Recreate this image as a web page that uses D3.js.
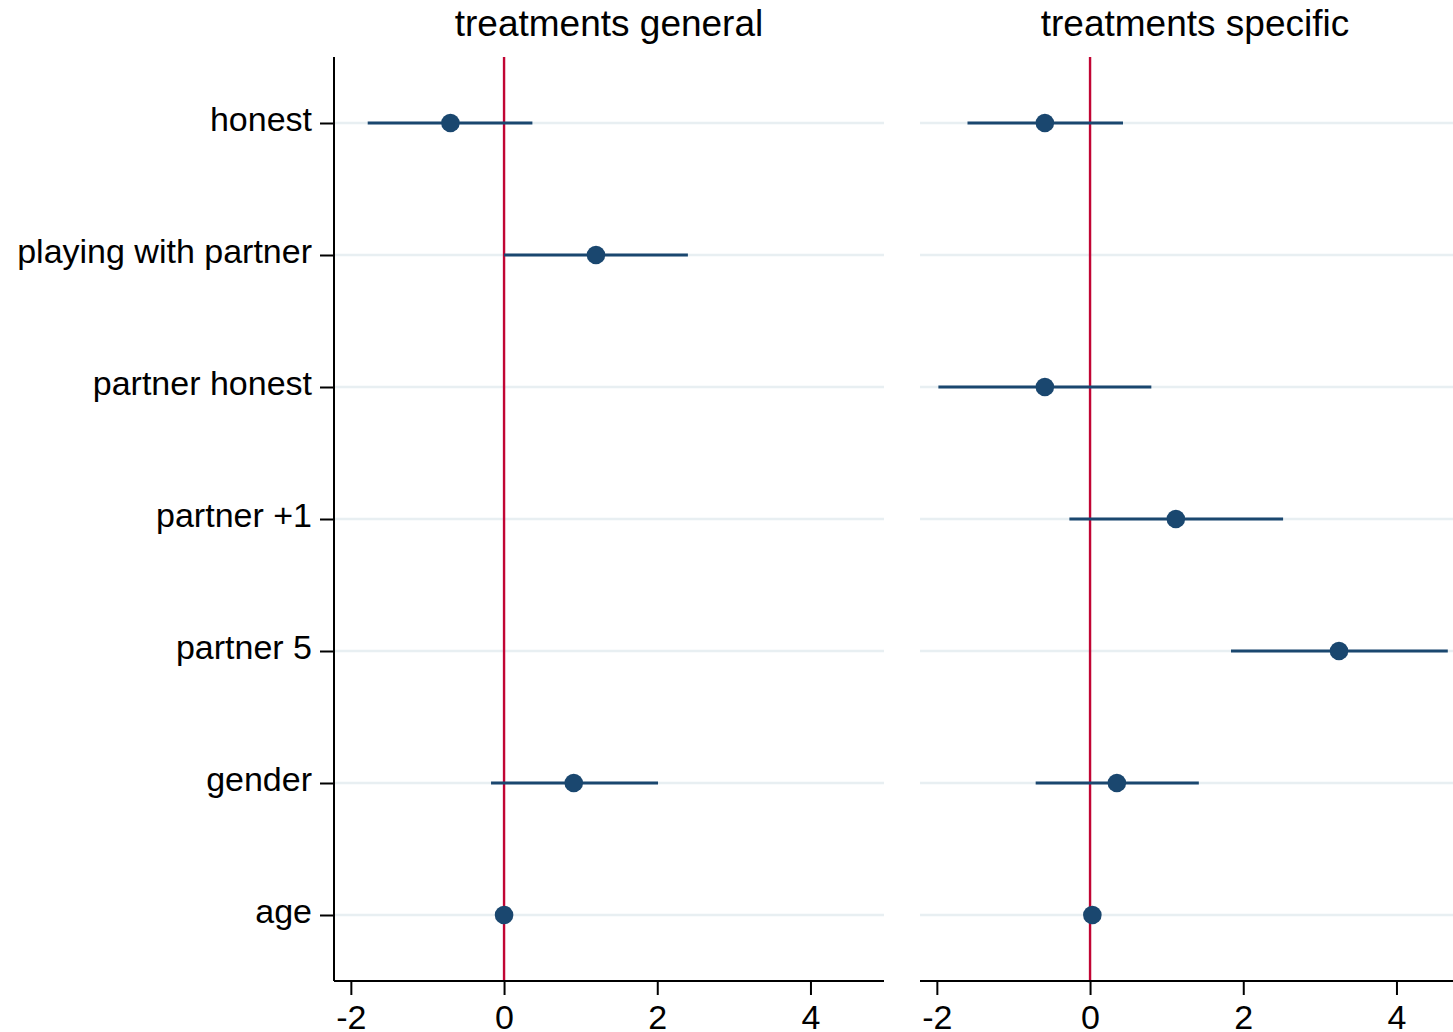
<!DOCTYPE html>
<html>
<head>
<meta charset="utf-8">
<script src="https://cdn.jsdelivr.net/npm/d3@7"></script>
<style>
  html, body { margin: 0; padding: 0; background: #fff; }
  svg { display: block; font-family: "Liberation Sans", Arial, sans-serif; }
</style>
</head>
<body>
<svg id="chart" width="1453" height="1032"></svg>
<script>
const categories = ["honest", "playing with partner", "partner honest", "partner +1", "partner 5", "gender", "age"];
const panels = ["treatments general", "treatments specific"];
const xTicks = [-2, 0, 2, 4];

// point estimates and confidence intervals (null = not estimated)
const generalEst = [-0.70, 1.20, null, null, null, 0.91, 0.00];
const generalLo  = [-1.78, 0.00, null, null, null, -0.17, -0.02];
const generalHi  = [ 0.37, 2.40, null, null, null, 2.01, 0.02];

const specificEst = [-0.59, null, -0.59, 1.12, 3.25, 0.35, 0.03];
const specificLo  = [-1.60, null, -1.98, -0.27, 1.84, -0.71, 0.00];
const specificHi  = [ 0.43, null,  0.80, 2.52, 4.67, 1.42, 0.06];

const seriesData = [
  { est: generalEst, lo: generalLo, hi: generalHi },
  { est: specificEst, lo: specificLo, hi: specificHi }
];

const svg = d3.select("#chart");
const plotTop = 57, plotBottom = 981;
const panelLefts = [334, 920];
const panelWidth = 550;
const navy = "#1a476f", red = "#c10534", grid = "#e8eff2";
const fontSize = 34;

const y = d3.scalePoint().domain(categories).range([plotTop, plotBottom]).padding(0.5);

panels.forEach((title, p) => {
  const x0 = panelLefts[p];
  const x = d3.scaleLinear().domain([-2.22, 4.96]).range([x0, x0 + panelWidth]);
  const g = svg.append("g");
  const d = seriesData[p];

  // gridlines
  g.selectAll("line.grid").data(categories).enter().append("line")
    .attr("class", "grid")
    .attr("x1", x0).attr("x2", x0 + panelWidth)
    .attr("y1", c => y(c)).attr("y2", c => y(c))
    .attr("stroke", grid).attr("stroke-width", 2.5);

  // zero reference line
  g.append("line")
    .attr("x1", x(0)).attr("x2", x(0))
    .attr("y1", plotTop).attr("y2", plotBottom)
    .attr("stroke", red).attr("stroke-width", 2.4);

  // x axis
  const xAxis = d3.axisBottom(x).tickValues(xTicks).tickSize(14).tickPadding(10)
    .tickFormat(d3.format("d"));
  const ax = g.append("g").attr("transform", `translate(0,${plotBottom})`).call(xAxis);
  ax.select(".domain").attr("stroke", "#000").attr("stroke-width", 2)
    .attr("d", `M${x0},0H${x0 + panelWidth}`);
  ax.selectAll(".tick line").attr("stroke", "#000").attr("stroke-width", 2);
  ax.selectAll(".tick text").attr("font-size", fontSize).attr("fill", "#000")
    .attr("font-family", "Liberation Sans, Arial, sans-serif")
    .text(v => v < 0 ? "-" + Math.abs(v) : String(v));

  // y axis for first panel
  if (p === 0) {
    const yAxis = d3.axisLeft(y).tickSize(14).tickPadding(8);
    const ay = g.append("g").attr("transform", `translate(${x0},0)`).call(yAxis);
    ay.select(".domain").attr("stroke", "#000").attr("stroke-width", 2)
      .attr("d", `M0,${plotTop}V${plotBottom}`);
    ay.selectAll(".tick line").attr("stroke", "#000").attr("stroke-width", 2);
    ay.selectAll(".tick text").attr("font-size", fontSize).attr("fill", "#000")
      .attr("font-family", "Liberation Sans, Arial, sans-serif")
      .attr("dy", "0.22em");
  }

  // CIs
  const idx = categories.map((c, i) => i).filter(i => d.est[i] !== null);
  g.selectAll("line.ci").data(idx).enter().append("line")
    .attr("class", "ci")
    .attr("x1", i => x(d.lo[i])).attr("x2", i => x(d.hi[i]))
    .attr("y1", i => y(categories[i])).attr("y2", i => y(categories[i]))
    .attr("stroke", navy).attr("stroke-width", 3);

  // points
  g.selectAll("circle.pt").data(idx).enter().append("circle")
    .attr("class", "pt")
    .attr("cx", i => x(d.est[i])).attr("cy", i => y(categories[i]))
    .attr("r", 9.3).attr("fill", navy);

  // title
  svg.append("text")
    .attr("x", x0 + panelWidth / 2).attr("y", 36)
    .attr("text-anchor", "middle").attr("font-size", 37).attr("fill", "#000")
    .text(title);
});
</script>
</body>
</html>
